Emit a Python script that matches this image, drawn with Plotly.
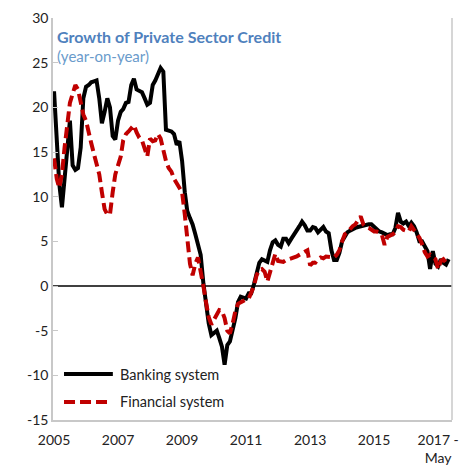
import pandas as pd
import plotly.graph_objects as go

# Monthly observations, January 2005 to May 2017 (percent, year-on-year)
months = pd.date_range("2005-01-01", periods=149, freq="MS")

banking_system = [
    21.8, 16.5, 11.5, 8.8, 12.0, 16.0, 18.5, 13.5, 13.0, 13.2, 15.5, 21.0,   # 2005
    22.3, 22.5, 22.8, 22.9, 23.0, 21.0, 18.2, 19.5, 21.0, 20.0, 16.8, 16.4,  # 2006
    18.5, 19.5, 19.8, 20.5, 20.6, 22.5, 23.2, 22.0, 21.8, 21.7, 21.0, 20.3,  # 2007
    20.5, 22.5, 23.0, 23.6, 24.4, 24.0, 17.5, 17.4, 17.3, 17.0, 15.8, 16.2,  # 2008
    14.0, 10.5, 8.4, 7.6, 6.9, 5.8, 4.8, 3.5, 0.3, -2.0, -4.2, -5.5,         # 2009
    -5.3, -5.0, -5.8, -6.8, -8.8, -6.6, -6.2, -5.0, -3.6, -1.8, -1.2, -1.3,  # 2010
    -1.4, -0.8, -0.8, 0.2, 1.5, 2.6, 3.0, 2.8, 2.7, 4.0, 4.9, 5.1,           # 2011
    4.6, 4.4, 5.3, 5.3, 4.8, 5.3, 5.7, 6.2, 6.7, 7.2, 6.8, 6.2,              # 2012
    6.2, 6.6, 6.5, 6.0, 6.3, 6.6, 6.1, 5.9, 4.0, 2.9, 2.9, 3.7,              # 2013
    5.0, 5.6, 6.0, 6.2, 6.4, 6.5, 6.6, 6.7, 6.8, 6.9, 6.9, 6.9,              # 2014
    6.6, 6.4, 6.1, 6.0, 5.8, 5.7, 5.8, 5.8, 6.5, 8.2, 7.2, 7.0,              # 2015
    7.2, 6.7, 7.1, 6.7, 6.0, 5.0, 5.0, 4.5, 3.9, 1.9, 3.9, 2.5,              # 2016
    2.2, 3.0, 2.6, 2.4, 3.0,                                                 # 2017
]

financial_system = [
    14.3, 12.0, 11.0, 12.5, 15.5, 18.5, 20.5, 21.5, 22.5, 22.0, 20.8, 19.2,  # 2005
    18.5, 17.0, 16.0, 14.8, 13.8, 12.5, 10.5, 8.6, 8.0, 8.0, 10.5, 12.5,     # 2006
    13.5, 14.5, 16.3, 17.0, 17.3, 17.6, 18.0, 17.2, 16.6, 16.3, 15.5, 14.5,  # 2007
    16.5, 16.2, 16.3, 17.0, 16.5, 15.2, 14.0, 13.2, 12.8, 12.0, 11.5, 11.2,  # 2008
    10.5, 8.0, 5.0, 2.5, 1.2, 2.5, 3.2, 1.8, 0.0, -1.8, -3.5, -4.3,          # 2009
    -3.8, -3.2, -2.7, -2.8, -3.6, -5.0, -5.3, -4.2, -2.8, -2.0, -1.8, -1.6,  # 2010
    -1.5, -1.4, -0.8, 0.0, 1.2, 1.8, 1.9, 1.6, 0.5, 1.6, 2.8, 3.6,           # 2011
    2.8, 2.7, 2.7, 2.9, 3.0, 3.0, 3.1, 3.3, 3.5, 3.7, 3.9, 4.0,              # 2012
    2.3, 2.6, 2.6, 3.0, 3.2, 3.1, 3.3, 3.3, 3.2, 3.2, 3.5, 4.0,              # 2013
    5.0, 5.8, 6.0, 6.4, 6.7, 6.9, 7.3, 7.8, 6.9, 6.6, 6.5, 6.3,              # 2014
    6.1, 6.1, 6.0, 5.7, 4.6, 5.5, 5.6, 5.8, 6.0, 6.7, 6.6, 6.3,              # 2015
    6.2, 6.1, 6.7, 6.3, 5.8, 5.4, 4.7, 3.8, 3.3, 3.5, 3.2, 3.0,              # 2016
    1.9, 2.8, 3.0, 2.6, 2.8,                                                 # 2017
]

tick_dates = ["2005-01-01", "2007-01-01", "2009-01-01", "2011-01-01",
              "2013-01-01", "2015-01-01", "2017-01-01"]
tick_labels = ["2005", "2007", "2009", "2011", "2013", "2015", "2017 -<br>May"]

y_ticks = [-15, -10, -5, 0, 5, 10, 15, 20, 25, 30]
y_labels = [str(v) for v in y_ticks]  # plain hyphen for negatives

FONT = "Lato, 'Open Sans', sans-serif"
AXIS_GREY = "#c8c8c8"
TEXT = "#222222"
BLACK = "#000000"
RED = "#c00000"
RED_DASH = "11px,5px"

fig = go.Figure()
fig.add_trace(go.Scatter(
    x=months, y=banking_system, mode="lines", name="Banking system",
    line=dict(color=BLACK, width=4), showlegend=False,
))
fig.add_trace(go.Scatter(
    x=months, y=financial_system, mode="lines", name="Financial system",
    line=dict(color=RED, width=4, dash=RED_DASH), showlegend=False,
))

# zero reference line
fig.add_shape(type="line", xref="paper", x0=0, x1=1, yref="y", y0=0, y1=0,
              line=dict(color=BLACK, width=1.3), layer="below")

# right-hand frame edge
fig.add_shape(type="line", xref="paper", x0=1, x1=1, yref="paper", y0=0, y1=1,
              line=dict(color=AXIS_GREY, width=1.5))

# key in the lower-left corner of the plot area
key = [("Banking system", BLACK, "solid", 0.1144, 0.150),
       ("Financial system", RED, RED_DASH, 0.0448, 0.141)]
annotations = [
    dict(text="<b>Growth of Private Sector Credit</b>", xref="paper", yref="paper",
         x=0.005, y=0.955, xanchor="left", yanchor="middle", showarrow=False,
         font=dict(family=FONT, size=16, color="#4f81bd")),
    dict(text="(year-on-year)", xref="paper", yref="paper",
         x=0.005, y=0.905, xanchor="left", yanchor="middle", showarrow=False,
         font=dict(family=FONT, size=15, color="#6a9bcb")),
]
for label, colour, dash, ky, kx1 in key:
    fig.add_shape(type="line", xref="paper", yref="paper",
                  x0=0.0276, x1=kx1, y0=ky, y1=ky,
                  line=dict(color=colour, width=4, dash=dash))
    annotations.append(dict(text=label, xref="paper", yref="paper",
                            x=0.163, y=ky, xanchor="left", yanchor="middle",
                            showarrow=False,
                            font=dict(family=FONT, size=14.5, color=TEXT)))

fig.update_layout(
    width=461, height=469,
    margin=dict(l=53, r=9, t=18, b=49),
    paper_bgcolor="white", plot_bgcolor="white",
    font=dict(family=FONT, size=14, color=TEXT),
    showlegend=False,
    annotations=annotations,
)

fig.update_xaxes(
    range=["2004-12-20", "2017-06-08"], automargin=False,
    tickmode="array", tickvals=tick_dates, ticktext=tick_labels,
    showgrid=False, zeroline=False,
    showline=True, linecolor=AXIS_GREY, linewidth=1.5,
    ticks="", ticklabelstandoff=6, tickfont=dict(size=14, color=TEXT),
)
fig.update_yaxes(
    range=[-15, 30], automargin=False,
    tickmode="array", tickvals=y_ticks, ticktext=y_labels,
    showgrid=False, zeroline=False,
    showline=True, linecolor=AXIS_GREY, linewidth=1.5,
    ticks="inside", ticklen=5, tickcolor=AXIS_GREY,
    tickfont=dict(size=14, color=TEXT),
)

fig.write_html("out.html")
